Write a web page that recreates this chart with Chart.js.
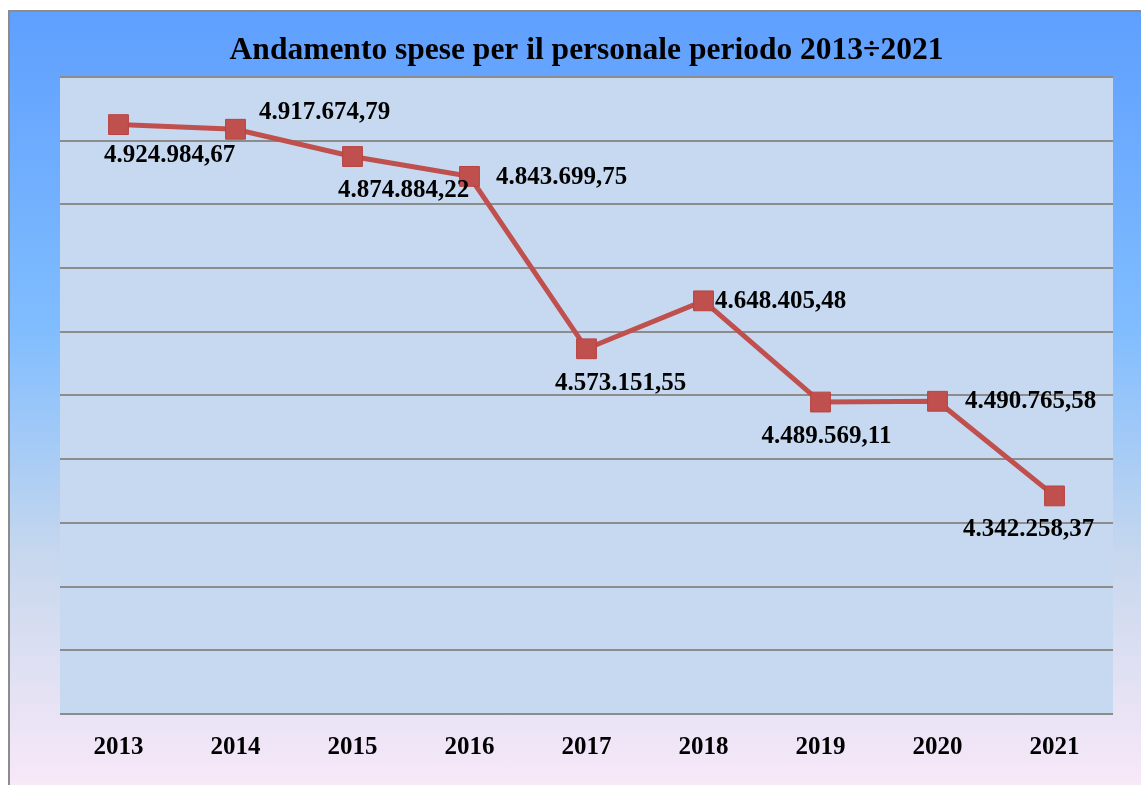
<!DOCTYPE html>
<html lang="it">
<head>
<meta charset="utf-8">
<title>Andamento spese per il personale</title>
<script src="https://cdn.jsdelivr.net/npm/chart.js@4/dist/chart.umd.min.js"></script>
<style>
    html, body { margin: 0; padding: 0; background: #ffffff; overflow: hidden; }
    #frame {
        position: absolute;
        left: 8px;
        top: 10px;
        width: 1131px;
        height: 773px;
        border-left: 2px solid #8c8c8c;
        border-top: 2px solid #8c8c8c;
        background: linear-gradient(to bottom, #5f9ffe 0%, #80bdff 41%, #c6d7ee 70%, #dcdff2 83%, #f8e8f8 100%);
    }
    #chartSpese { display: block; }
</style>
</head>
<body>
<div id="frame">
    <canvas id="chartSpese" width="1131" height="773"></canvas>
</div>
<script>
// dati
const anni = ['2013', '2014', '2015', '2016', '2017', '2018', '2019', '2020', '2021'];
const spese = [4924984.67, 4917674.79, 4874884.22, 4843699.75, 4573151.55, 4648405.48, 4489569.11, 4490765.58, 4342258.37];
const scalaMin = 4000000;
const scalaMax = 5000000;
const scalaPasso = 100000;

// posizione delle etichette rispetto al punto (centro del testo)
const etichetteOffset = [[51, 31], [89, -17], [51, 34], [92, 1], [34, 35], [77, 1], [6, 35], [93, 0], [-26, 34]];

const COLORI = {
    linea: '#c0504d',
    area: '#c6d9f0',
    griglia: '#8c8c8c',
    testo: '#000000'
};
const FONT = "'Liberation Serif', 'DejaVu Serif', serif";

function formatoIt(v) {
    const [intero, dec] = v.toFixed(2).split('.');
    return intero.replace(/\B(?=(\d{3})+(?!\d))/g, '.') + ',' + dec;
}

// sfondo dell'area del grafico
const sfondoArea = {
    id: 'sfondoArea',
    beforeDraw(chart) {
        const { ctx, chartArea: a } = chart;
        ctx.save();
        ctx.fillStyle = COLORI.area;
        ctx.fillRect(a.left, a.top, a.right - a.left, a.bottom - a.top);
        ctx.restore();
    }
};

// etichette dei valori
const etichette = {
    id: 'etichette',
    afterDatasetsDraw(chart) {
        const { ctx } = chart;
        const meta = chart.getDatasetMeta(0);
        ctx.save();
        ctx.font = 'bold 25px ' + FONT;
        ctx.fillStyle = COLORI.testo;
        ctx.textAlign = 'center';
        ctx.textBaseline = 'middle';
        meta.data.forEach((p, i) => {
            const [dx, dy] = etichetteOffset[i];
            ctx.fillText(formatoIt(spese[i]), p.x + dx, p.y + dy);
        });
        ctx.restore();
    }
};

const ctx = document.getElementById('chartSpese').getContext('2d');
new Chart(ctx, {
    type: 'line',
    data: {
        labels: anni,
        datasets: [{
            label: 'Spese per il personale',
            data: spese,
            borderColor: COLORI.linea,
            backgroundColor: COLORI.linea,
            borderWidth: 5,
            tension: 0,
            pointStyle: 'rect',
            pointRadius: 14,
            pointHoverRadius: 14,
            pointBorderWidth: 1,
            pointBorderColor: '#b8433f',
            pointBackgroundColor: COLORI.linea
        }]
    },
    options: {
        responsive: false,
        animation: false,
        layout: { padding: { left: 50, right: 28, top: 0, bottom: 11 } },
        plugins: {
            legend: { display: false },
            tooltip: { enabled: false },
            title: {
                display: true,
                text: 'Andamento spese per il personale periodo 2013÷2021',
                color: COLORI.testo,
                font: { family: FONT, size: 31.5, weight: 'bold' },
                padding: { top: 20, bottom: 7 }
            }
        },
        scales: {
            x: {
                offset: true,
                grid: { display: false },
                border: { display: false },
                ticks: {
                    color: COLORI.testo,
                    font: { family: FONT, size: 25, weight: 'bold' },
                    padding: 11
                }
            },
            y: {
                min: scalaMin,
                max: scalaMax,
                ticks: { display: false, stepSize: scalaPasso },
                border: { display: false },
                grid: { color: COLORI.griglia, lineWidth: 2, drawTicks: false }
            }
        }
    },
    plugins: [sfondoArea, etichette]
});
</script>
</body>
</html>
